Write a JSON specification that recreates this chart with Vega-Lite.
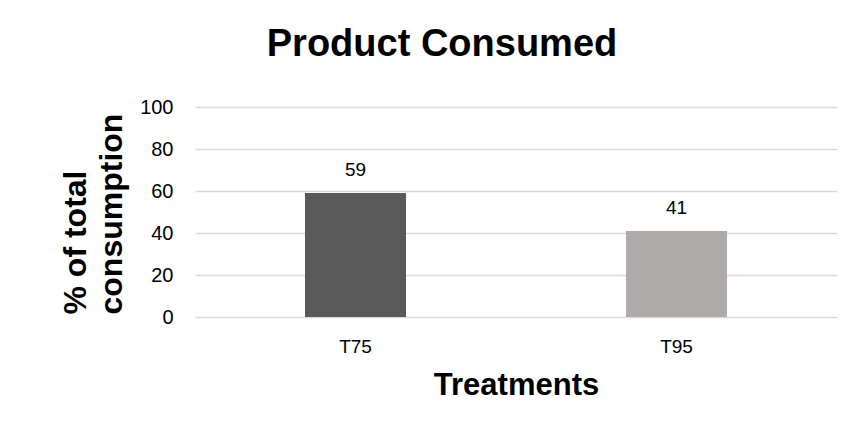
{
  "$schema": "https://vega.github.io/schema/vega-lite/v6.json",
  "width": 642,
  "height": 210,
  "autosize": {"type": "none"},
  "padding": {"left": 195, "top": 107, "right": 19, "bottom": 120},
  "background": "white",
  "config": {"view": {"stroke": null}, "font": "Liberation Sans"},
  "title": {
    "text": "Product Consumed",
    "font": "Liberation Sans",
    "fontSize": 38,
    "fontWeight": "bold",
    "color": "#000000",
    "anchor": "middle",
    "frame": "group",
    "dx": -74,
    "baseline": "alphabetic",
    "offset": 3
  },
  "data": {
    "values": [
      {"treatment": "T75", "value": 59},
      {"treatment": "T95", "value": 41}
    ]
  },
  "encoding": {
    "x": {
      "field": "treatment",
      "type": "nominal",
      "scale": {"paddingInner": 0, "paddingOuter": 0},
      "axis": {
        "title": "Treatments",
        "titleFont": "Liberation Sans",
        "titleFontSize": 31,
        "titleFontWeight": "bold",
        "titleColor": "#000000",
        "titlePadding": 14,
        "labelAngle": 0,
        "labelFont": "Liberation Sans",
        "labelFontSize": 19,
        "labelColor": "#000000",
        "labelPadding": 20,
        "ticks": false,
        "domain": false
      }
    },
    "y": {
      "field": "value",
      "type": "quantitative",
      "scale": {"domain": [0, 100]},
      "axis": {
        "values": [0, 20, 40, 60, 80, 100],
        "title": ["% of total", "consumption"],
        "titleFont": "Liberation Sans",
        "titleFontSize": 32,
        "titleFontWeight": "bold",
        "titleColor": "#000000",
        "titleAngle": -90,
        "titleAlign": "left",
        "titleBaseline": "alphabetic",
        "titleLineHeight": 36,
        "titleX": -110,
        "titleY": 207,
        "labelFont": "Liberation Sans",
        "labelFontSize": 20,
        "labelColor": "#000000",
        "labelPadding": 22,
        "ticks": false,
        "domain": false,
        "grid": true,
        "gridColor": "#D9D9D9",
        "gridWidth": 1.5
      }
    }
  },
  "layer": [
    {
      "mark": {"type": "bar", "size": 101},
      "encoding": {
        "color": {
          "field": "treatment",
          "type": "nominal",
          "scale": {"domain": ["T75", "T95"], "range": ["#595959", "#AEAAAA"]},
          "legend": null
        }
      }
    },
    {
      "mark": {"type": "text", "baseline": "alphabetic", "dy": -17, "fontSize": 19, "font": "Liberation Sans", "color": "#000000"},
      "encoding": {"text": {"field": "value", "type": "quantitative"}}
    }
  ]
}
